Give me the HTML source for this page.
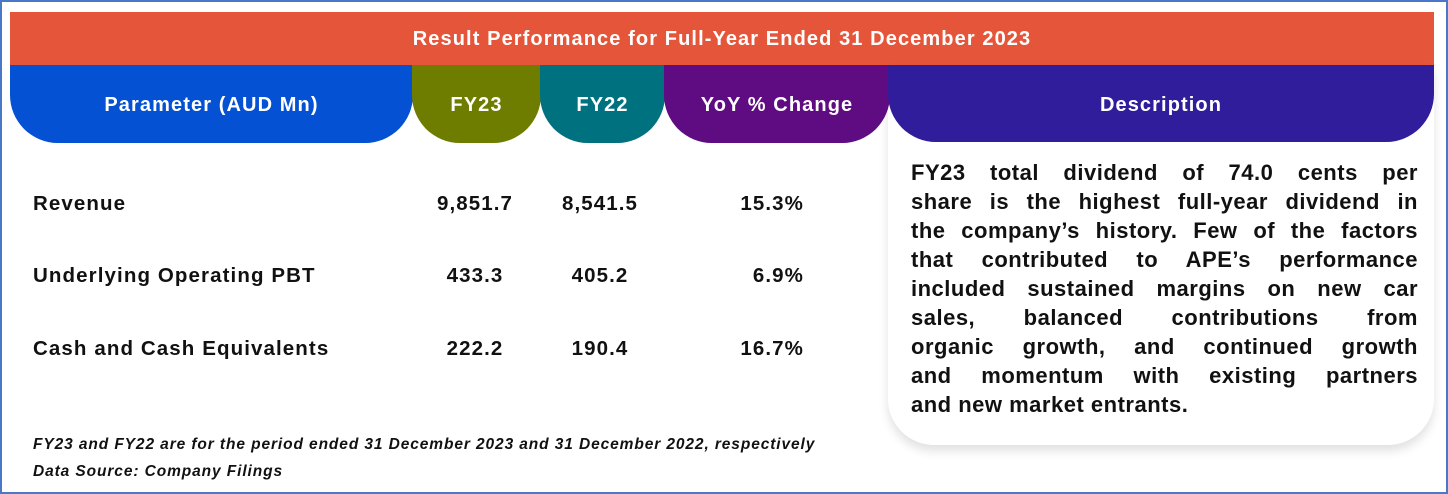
<!DOCTYPE html>
<html><head><meta charset="utf-8"><style>
*{margin:0;padding:0;box-sizing:border-box}
body{width:1448px;height:494px;background:#fff;font-family:"Liberation Sans",sans-serif;position:relative;overflow:hidden}
.frame{position:absolute;left:0;top:0;width:1448px;height:494px;border:2px solid #4a78c8}
.banner{position:absolute;left:10px;top:12px;width:1424px;height:54px;background:#E5553A;color:#fff;font-weight:bold;font-size:20px;letter-spacing:1.1px;text-align:center;line-height:54px}
.h{position:absolute;top:65px;height:78px;color:#fff;font-weight:bold;font-size:20px;letter-spacing:1.1px;text-align:center;line-height:80px;border-radius:0 0 48px 48px}
.card{position:absolute;left:888px;top:65px;width:546px;height:380px;background:#fff;border-radius:0 0 46px 46px;box-shadow:0 6px 10px rgba(0,0,0,0.12)}
.row{position:absolute;font-weight:bold;font-size:20.5px;letter-spacing:1.1px;color:#111}
.desc{position:absolute;left:911px;top:158px;width:507px;font-weight:bold;font-size:22px;letter-spacing:0.5px;line-height:29px;color:#111}
.desc div{text-align:justify;text-align-last:justify;white-space:nowrap}
.desc div.l{text-align-last:left}
.fn{position:absolute;left:33px;font-style:italic;font-weight:bold;font-size:15.5px;letter-spacing:0.9px;color:#111}
</style></head><body>
<div class="frame"></div>
<div class="banner">Result Performance for Full-Year Ended 31 December 2023</div>
<div class="card"></div>
<div class="h" style="left:10px;width:403px;background:#0451D3">Parameter (AUD Mn)</div>
<div class="h" style="left:412px;width:129px;background:#6E7D00">FY23</div>
<div class="h" style="left:540px;width:125px;background:#00717F">FY22</div>
<div class="h" style="left:664px;width:226px;background:#5F0B82">YoY % Change</div>
<div class="h" style="left:888px;width:546px;background:#2F1D9B;height:77px">Description</div>

<div class="row" style="left:33px;top:192px">Revenue</div>
<div class="row" style="left:33px;top:264px">Underlying Operating PBT</div>
<div class="row" style="left:33px;top:337px">Cash and Cash Equivalents</div>
<div class="row" style="left:420px;width:110px;text-align:center;top:192px">9,851.7</div>
<div class="row" style="left:420px;width:110px;text-align:center;top:264px">433.3</div>
<div class="row" style="left:420px;width:110px;text-align:center;top:337px">222.2</div>
<div class="row" style="left:545px;width:110px;text-align:center;top:192px">8,541.5</div>
<div class="row" style="left:545px;width:110px;text-align:center;top:264px">405.2</div>
<div class="row" style="left:545px;width:110px;text-align:center;top:337px">190.4</div>
<div class="row" style="left:680px;width:124px;text-align:right;top:192px">15.3%</div>
<div class="row" style="left:680px;width:124px;text-align:right;top:264px">6.9%</div>
<div class="row" style="left:680px;width:124px;text-align:right;top:337px">16.7%</div>

<div class="desc">
<div>FY23 total dividend of 74.0 cents per</div>
<div>share is the highest full-year dividend in</div>
<div>the company’s history. Few of the factors</div>
<div>that contributed to APE’s performance</div>
<div>included sustained margins on new car</div>
<div>sales, balanced contributions from</div>
<div>organic growth, and continued growth</div>
<div>and momentum with existing partners</div>
<div class="l">and new market entrants.</div>
</div>

<div class="fn" style="top:436px">FY23 and FY22 are for the period ended 31 December 2023 and 31 December 2022, respectively</div>
<div class="fn" style="top:463px">Data Source: Company Filings</div>
</body></html>
